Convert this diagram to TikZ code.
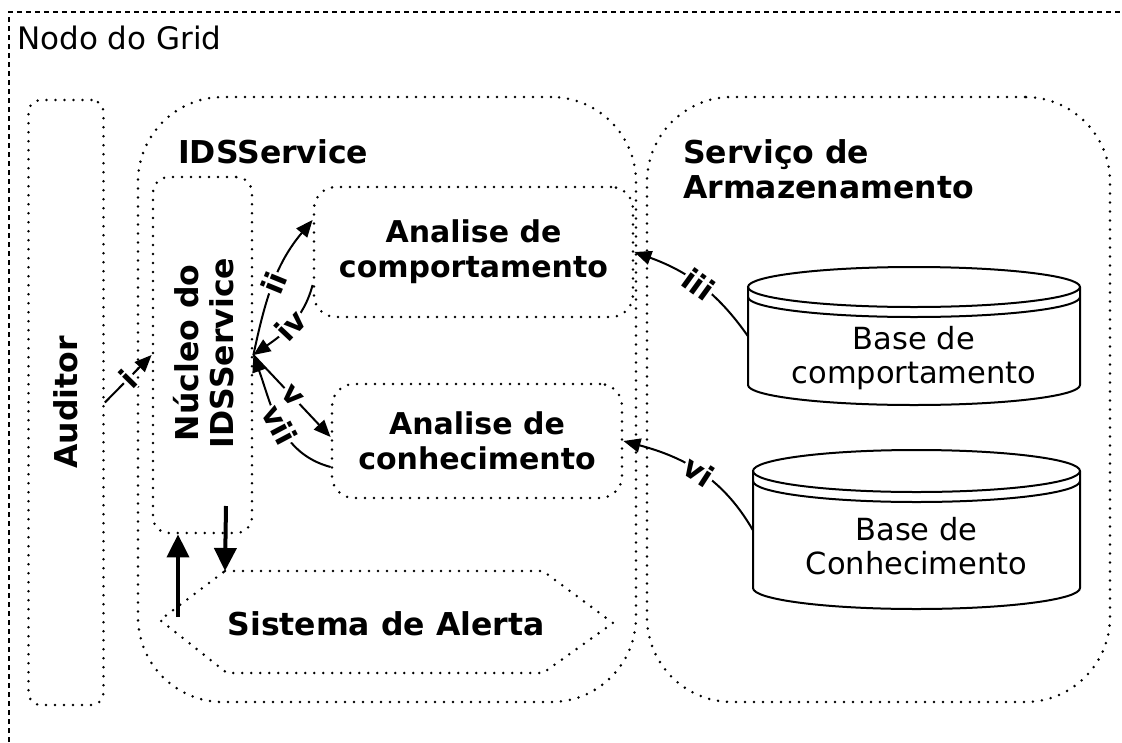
\documentclass[tikz,border=0pt]{standalone}
\usepackage{fontspec}
\setmainfont{DejaVu Sans}
\usetikzlibrary{arrows.meta}
\begin{document}
\begin{tikzpicture}[x=1pt,y=1pt,
  dotbox/.style={draw, line width=2.8pt, dash pattern=on 0pt off 9pt, line cap=round, inner sep=0pt},
  framedash/.style={line width=1.5pt, dash pattern=on 5pt off 4pt},
  bfont/.style={font=\fontsize{31.5}{35}\selectfont\bfseries},
  afont/.style={font=\fontsize{30}{35}\selectfont\bfseries},
  rfont/.style={font=\fontsize{30.5}{34}\selectfont},
  conn/.style={line width=2pt, -{Triangle[length=17pt,width=14pt]}},
  bigarrow/.style={line width=4pt, -{Triangle[length=23pt,width=22pt]}},
  lbl/.style={midway, sloped, fill=white, inner sep=1pt, font=\fontsize{30}{32}\selectfont\bfseries},
  cyl/.style={draw, line width=2pt}
]
\useasboundingbox (0,0) rectangle (1122,-742);
% outer frame
\draw[framedash] (9,-742) -- (9,-12) -- (1122,-12);
\node[font=\fontsize{31}{36}\selectfont, anchor=base west, inner sep=0pt] (grid) at (17,-49) {Nodo do Grid};

% Auditor
\node[dotbox, rounded corners=12pt, minimum width=75pt, minimum height=605pt] (aud) at (66,-402.5) {};
\node[bfont, rotate=90] (audt) at (aud.center) {Auditor};

% IDSService container
\node[dotbox, rounded corners=85pt, minimum width=498pt, minimum height=605pt] (ids) at (387,-399.5) {};
\node[bfont, anchor=base west, inner sep=0pt] (idst) at (178,-163) {IDSService};

% Nucleo
\node[dotbox, rounded corners=16pt, minimum width=99pt, minimum height=356pt] (nuc) at (202.5,-355) {};
\node[bfont, rotate=90, align=center] (nuct) at (204,-353) {Núcleo do\\IDSService};

% Analise boxes
\node[dotbox, rounded corners=22pt, minimum width=319pt, minimum height=130pt, afont, align=center] (acomp) at (473.5,-252) {Analise de\\comportamento};
\node[dotbox, rounded corners=22pt, minimum width=290pt, minimum height=114pt, afont, align=center] (aconh) at (477,-441) {Analise de\\conhecimento};

% Sistema de Alerta
\coordinate (stl) at (225,-571);
\coordinate (str) at (543,-571);
\coordinate (sr) at (613,-623);
\coordinate (sbr) at (543,-673);
\coordinate (sbl) at (227,-673);
\coordinate (sl) at (160,-620);
\draw[line width=2.8pt, dash pattern=on 0pt off 9pt, line cap=round] (stl) -- (str) -- (sr) -- (sbr) -- (sbl) -- (sl) -- cycle;
\node[bfont] (sis) at (386,-624) {Sistema de Alerta};

% Storage service
\node[dotbox, rounded corners=85pt, minimum width=463pt, minimum height=605pt] (stor) at (878.5,-399.5) {};
\node[bfont, align=left, anchor=north west, inner sep=0pt] (stort) at (683,-139) {Serviço de\\Armazenamento};

% Cylinder 1
\node[minimum width=332pt, minimum height=140pt, inner sep=0pt] (bc) at (914,-336) {};
\draw[cyl] (914,-287) ellipse [x radius=166, y radius=20];
\draw[cyl] (748,-297) arc[start angle=180, end angle=360, x radius=166, y radius=20];
\draw[cyl] (748,-287) -- (748,-385) arc[start angle=180, end angle=360, x radius=166, y radius=20] -- (1080,-287);
\node[rfont, align=center] (bct) at (914,-358) {Base de\\comportamento};

% Cylinder 2
\node[minimum width=327pt, minimum height=160pt, inner sep=0pt] (bk) at (916.5,-530) {};
\draw[cyl] (916.5,-471) ellipse [x radius=163.5, y radius=21];
\draw[cyl] (753,-481) arc[start angle=180, end angle=360, x radius=163.5, y radius=21];
\draw[cyl] (753,-471) -- (753,-588) arc[start angle=180, end angle=360, x radius=163.5, y radius=21] -- (1080,-471);
\node[rfont, align=center] (bkt) at (916.5,-546) {Base de\\Conhecimento};

% connectors
\draw[conn] (aud.east) -- node[lbl] {i} (nuc.west);
\draw[conn] (nuc.east) to[out=78, in=230] node[lbl] {ii} ([yshift=32pt]acomp.west);
\draw[conn] ([yshift=-33pt]acomp.west) to[out=255, in=35] node[lbl] {iv} (nuc.east);
\draw[conn] (nuc.east) -- node[lbl] {v} ([yshift=4pt]aconh.west);
\draw[conn] ([yshift=-26pt]aconh.west) to[out=165, in=290] node[lbl] {vii} (nuc.east);
\draw[conn] (bc.west) to[out=125, in=-20] node[lbl] {iii} (acomp.east);
\draw[conn] (bk.west) to[out=120, in=-15] node[lbl] {vi} (aconh.east);

% thick arrows
\coordinate (up0) at (178,-617);
\coordinate (dn0) at (226,-506);
\draw[bigarrow] (up0) -- (up0 |- nuc.south);
\draw[bigarrow] (dn0) -- (stl);
\end{tikzpicture}
\end{document}
